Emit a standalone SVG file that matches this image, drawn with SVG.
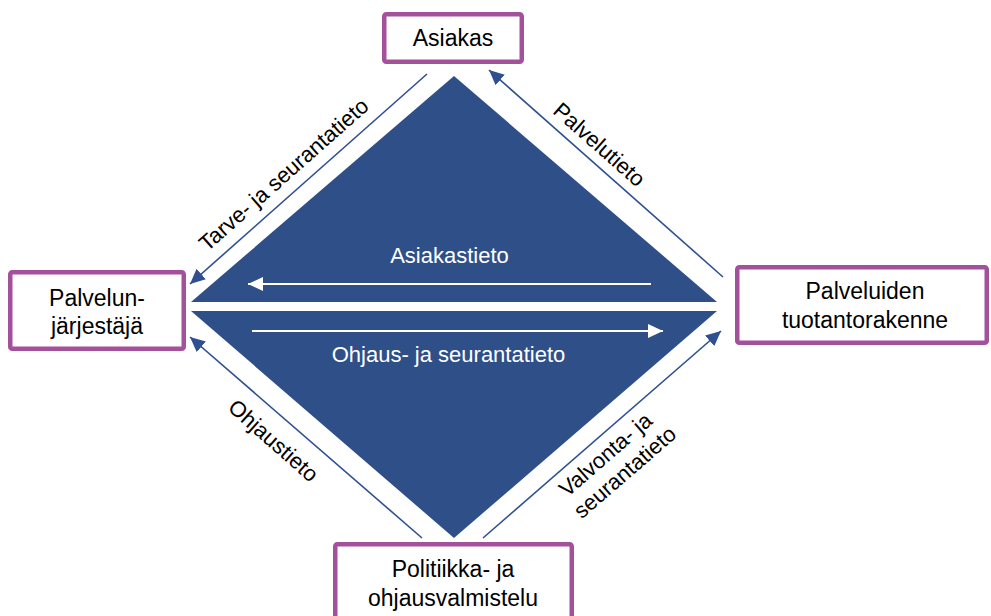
<svg xmlns="http://www.w3.org/2000/svg" width="991" height="616" viewBox="0 0 991 616">
  <style>
    .box { fill: #ffffff; stroke: #A3519B; stroke-width: 4.5; }
    .lbl { font-family: "Liberation Sans", Arial, sans-serif; font-size: 23px; fill: #000000; text-anchor: middle; }
    .tag { font-family: "Liberation Sans", Arial, sans-serif; font-size: 22px; fill: #000000; text-anchor: middle; }
    .inner { font-family: "Liberation Sans", Arial, sans-serif; font-size: 22px; fill: #ffffff; text-anchor: middle; }
    .flow { stroke: #2F5090; stroke-width: 1.6; fill: none; }
    .wflow { stroke: #ffffff; stroke-width: 2; fill: none; }
    .tri { fill: #2F4F88; }
  </style>
  <defs>
    <marker id="ah" markerUnits="userSpaceOnUse" markerWidth="16" markerHeight="14" refX="15" refY="7" orient="auto">
      <path d="M0,0 L15,7 L0,14 Z" fill="#2F5090"/>
    </marker>
    <marker id="wh" markerUnits="userSpaceOnUse" markerWidth="16" markerHeight="14" refX="15" refY="7" orient="auto">
      <path d="M0,0 L15,7 L0,14 Z" fill="#ffffff"/>
    </marker>
  </defs>

  <rect width="991" height="616" fill="#ffffff"/>

  <!-- central diamond split into two halves -->
  <g id="diamond">
    <polygon class="tri" points="454,76 717,302 191,302"/>
    <polygon class="tri" points="191,311 717,311 454,538"/>
  </g>

  <!-- information flows -->
  <g id="connectors">
    <line class="flow" x1="427" y1="74" x2="190" y2="284" marker-end="url(#ah)"/>
    <line class="flow" x1="723" y1="277" x2="489" y2="70" marker-end="url(#ah)"/>
    <line class="flow" x1="422" y1="538" x2="190" y2="337" marker-end="url(#ah)"/>
    <line class="flow" x1="483" y1="538" x2="721" y2="331" marker-end="url(#ah)"/>
    <line class="wflow" x1="651" y1="284" x2="248" y2="284" marker-end="url(#wh)"/>
    <line class="wflow" x1="252" y1="331" x2="663" y2="331" marker-end="url(#wh)"/>

    <text class="inner" x="449.5" y="263">Asiakastieto</text>
    <text class="inner" x="448.5" y="362">Ohjaus- ja seurantatieto</text>

    <text class="tag" transform="translate(284,175) rotate(-41.5)" x="0" y="7">Tarve- ja seurantatieto</text>
    <text class="tag" transform="translate(599,145) rotate(41.5)" x="0" y="7">Palvelutieto</text>
    <text class="tag" transform="translate(273,441) rotate(41.5)" x="0" y="7">Ohjaustieto</text>
    <text class="tag" transform="translate(616,462) rotate(-41)">
      <tspan x="0" y="-5">Valvonta- ja</tspan>
      <tspan x="0" y="21">seurantatieto</tspan>
    </text>
  </g>

  <g id="asiakas">
    <rect class="box" x="384.25" y="14.25" width="137.5" height="47.5" rx="2"/>
    <text class="lbl" x="453" y="46">Asiakas</text>
  </g>

  <g id="palvelunjarjestaja">
    <rect class="box" x="10.25" y="272.25" width="173.5" height="76.5" rx="2"/>
    <text class="lbl" x="97" y="306">Palvelun-</text>
    <text class="lbl" x="97" y="334">järjestäjä</text>
  </g>

  <g id="tuotantorakenne">
    <rect class="box" x="737.25" y="267.25" width="249.5" height="75.5" rx="2"/>
    <text class="lbl" x="865" y="299">Palveluiden</text>
    <text class="lbl" x="865" y="328">tuotantorakenne</text>
  </g>

  <g id="politiikka">
    <rect class="box" x="335.25" y="544.25" width="236.5" height="80" rx="2"/>
    <text class="lbl" x="453" y="577">Politiikka- ja</text>
    <text class="lbl" x="453" y="606">ohjausvalmistelu</text>
  </g>
</svg>
